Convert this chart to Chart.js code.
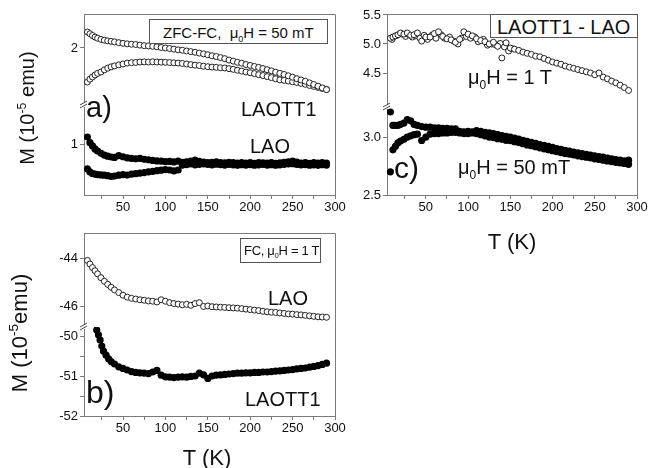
<!DOCTYPE html>
<html>
<head>
<meta charset="utf-8">
<script src="https://cdn.jsdelivr.net/npm/chart.js@4.4.1/dist/chart.umd.min.js"></script>
<style>
  body { margin: 0; background: #fff; }
  #fig { position: relative; width: 649px; height: 468px; overflow: hidden; background: #fff;
         font-family: "Liberation Sans", Arial, sans-serif; color: #111; }
  #fig canvas { position: absolute; }
  .lbl { position: absolute; white-space: nowrap; line-height: 1; }
  .box { position: absolute; white-space: nowrap; border: 1px solid #555; background: #fff;
         box-sizing: border-box; line-height: 1; }
  .ylab { position: absolute; white-space: nowrap; line-height: 1;
          transform: translate(-50%, -50%) rotate(-90deg); }
  .ctr { transform: translateX(-50%); }
  sub { font-size: 0.6em; vertical-align: -0.4em; line-height: 0; }
  sup { font-size: 0.62em; vertical-align: 0.65em; line-height: 0; }
</style>
</head>
<body>
<div id="fig">
  <canvas id="chartA" width="350" height="222" style="left:0;top:0"></canvas>
  <canvas id="chartB" width="350" height="224" style="left:0;top:219px"></canvas>
  <canvas id="chartC" width="309" height="222" style="left:340px;top:0"></canvas>

  <div class="ylab" style="left:27px;top:108px;font-size:20px">M (10<sup>-5</sup> emu)</div>
  <div class="ylab" style="left:20px;top:333px;font-size:22px">M (10<sup>-5</sup>emu)</div>
  <div class="lbl ctr" style="left:207px;top:447px;font-size:22px">T (K)</div>
  <div class="lbl ctr" style="left:512px;top:231px;font-size:22px">T (K)</div>

  <div class="box" style="left:149px;top:19px;width:179px;height:25px;font-size:15px;padding:5px 0 0 13px">ZFC-FC,&nbsp; μ<sub>0</sub>H = 50 mT</div>
  <div class="lbl" style="left:86px;top:93px;font-size:29px">a)</div>
  <div class="lbl" style="left:241px;top:99px;font-size:20px">LAOTT1</div>
  <div class="lbl" style="left:250px;top:136px;font-size:20px">LAO</div>

  <div class="box" style="left:240px;top:238px;width:81px;height:25px;font-size:13px;letter-spacing:-0.3px;padding:5px 0 0 3px">FC, μ<sub>0</sub>H = 1 T</div>
  <div class="lbl" style="left:268px;top:288px;font-size:20px">LAO</div>
  <div class="lbl" style="left:86px;top:376px;font-size:32px">b)</div>
  <div class="lbl" style="left:245px;top:389px;font-size:20px">LAOTT1</div>

  <div class="box" style="left:490px;top:14px;width:148px;height:24px;font-size:20px;padding:2px 0 0 6px">LAOTT1 - LAO</div>
  <div class="lbl" style="left:468px;top:67px;font-size:20px">μ<sub>0</sub>H = 1 T</div>
  <div class="lbl" style="left:394px;top:153px;font-size:30px">c)</div>
  <div class="lbl" style="left:458px;top:157px;font-size:20px">μ<sub>0</sub>H = 50 mT</div>
</div>

<script>
// temperature grids (K)
const tA = [8, 11, 14, 17, 20, 24, 28, 32, 36, 40, 45, 50, 55, 60, 65, 70, 75, 80, 85, 90,
            95, 100, 105, 110, 115, 120, 125, 130, 135, 140, 145, 150, 155, 160, 165, 170, 175, 180, 185, 190,
            195, 200, 205, 210, 215, 220, 225, 230, 235, 240, 245, 250, 255, 260, 265, 270, 275, 280, 285, 290];
const tB = [19, 21, 23, 25, 27, 30, 33, 36, 40, 45, 50, 55, 60, 65, 70, 75, 80, 85, 90, 95,
            100, 105, 110, 115, 120, 125, 130, 135, 140, 145, 150, 155, 160, 165, 170, 175, 180, 185, 190, 195,
            200, 205, 210, 215, 220, 225, 230, 235, 240, 245, 250, 255, 260, 265, 270, 275, 280, 285, 290];
const tScatter = [10, 16, 22, 26, 30, 34, 38, 43, 48, 52, 57, 62, 68, 72, 78, 83, 88, 92, 98, 103,
                  108, 112, 118, 123, 128, 132, 138, 143, 148, 152];

// a) LAOTT1, 50 mT (open circles)
const laott1FcA = [2.123, 2.110, 2.096, 2.084, 2.075, 2.066, 2.060, 2.055, 2.051, 2.047, 2.041, 2.036, 2.032, 2.029, 2.027, 2.022, 2.018, 2.016, 2.013, 2.009,
                   2.004, 2.000, 1.996, 1.991, 1.986, 1.983, 1.977, 1.972, 1.967, 1.961, 1.955, 1.948, 1.940, 1.934, 1.926, 1.918, 1.907, 1.899, 1.890, 1.883,
                   1.873, 1.866, 1.858, 1.851, 1.842, 1.833, 1.824, 1.814, 1.805, 1.796, 1.786, 1.775, 1.764, 1.754, 1.744, 1.732, 1.719, 1.706, 1.693, 1.680];
const laott1ZfcA = [1.738, 1.760, 1.777, 1.792, 1.805, 1.815, 1.832, 1.845, 1.855, 1.862, 1.870, 1.877, 1.884, 1.887, 1.889, 1.892, 1.893, 1.892, 1.894, 1.892,
                    1.891, 1.890, 1.888, 1.886, 1.884, 1.881, 1.877, 1.872, 1.868, 1.865, 1.860, 1.856, 1.853, 1.851, 1.848, 1.846, 1.841, 1.836, 1.829, 1.822,
                    1.815, 1.810, 1.803, 1.795, 1.788, 1.780, 1.772, 1.763, 1.755, 1.751, 1.746, 1.740, 1.735, 1.728, 1.721, 1.712, 1.705, 1.697, 1.689, 1.682];
// a) LAO, 50 mT (filled)
const laoFcA = [1.054, 1.010, 0.985, 0.962, 0.946, 0.928, 0.915, 0.906, 0.900, 0.897, 0.910, 0.902, 0.893, 0.889, 0.886, 0.889, 0.882, 0.878, 0.874, 0.870,
                0.868, 0.864, 0.866, 0.862, 0.868, 0.859, 0.862, 0.868, 0.876, 0.866, 0.861, 0.856, 0.858, 0.862, 0.857, 0.855, 0.859, 0.856, 0.853, 0.857,
                0.854, 0.856, 0.852, 0.857, 0.855, 0.853, 0.856, 0.852, 0.855, 0.858, 0.863, 0.868, 0.860, 0.854, 0.857, 0.852, 0.856, 0.853, 0.857, 0.854];
const laoZfcA = [0.808, 0.785, 0.773, 0.768, 0.765, 0.762, 0.760, 0.756, 0.750, 0.753, 0.760, 0.764, 0.761, 0.768, 0.772, 0.776, 0.780, 0.785, 0.790, 0.795,
                 0.799, 0.803, 0.800, 0.793, 0.800, 0.838, 0.842, 0.846, 0.840, 0.844, 0.847, 0.843, 0.840, 0.845, 0.842, 0.838, 0.843, 0.840, 0.836, 0.841,
                 0.838, 0.842, 0.837, 0.840, 0.843, 0.838, 0.841, 0.837, 0.840, 0.844, 0.846, 0.848, 0.843, 0.839, 0.842, 0.837, 0.840, 0.836, 0.841, 0.838];

// b) FC, 1 T
const laoB = [-44.10, -44.25, -44.40, -44.53, -44.66, -44.82, -44.97, -45.10, -45.22, -45.33, -45.44, -45.55, -45.63, -45.68, -45.71, -45.74, -45.76, -45.79, -45.80, -45.83,
              -45.74, -45.80, -45.86, -45.90, -45.92, -45.95, -45.93, -45.97, -45.90, -45.86, -46.02, -46.00, -46.03, -46.04, -46.05, -46.06, -46.07, -46.08, -46.09, -46.11,
              -46.13, -46.15, -46.17, -46.19, -46.22, -46.24, -46.26, -46.27, -46.29, -46.31, -46.33, -46.34, -46.36, -46.37, -46.39, -46.41, -46.43, -46.45, -46.46, -46.47];
const laott1B = [-49.85, -49.97, -50.10, -50.25, -50.38, -50.48, -50.57, -50.64, -50.70, -50.77, -50.81, -50.85, -50.89, -50.91, -50.92, -50.93, -50.94, -50.90, -50.86, -50.98,
                 -51.02, -51.03, -51.04, -51.03, -51.02, -51.03, -51.01, -51.00, -50.93, -50.97, -51.06, -51.00, -50.98, -50.97, -50.96, -50.95, -50.94, -50.93, -50.93, -50.92,
                 -50.92, -50.91, -50.91, -50.90, -50.90, -50.89, -50.88, -50.87, -50.86, -50.85, -50.84, -50.82, -50.81, -50.80, -50.78, -50.76, -50.74, -50.71, -50.68];

// c) LAOTT1 - LAO
const diff1T = [5.10, 5.12, 5.14, 5.16, 5.19, 5.17, 5.19, 5.15, 5.16, 5.19, 5.05, 5.12, 5.12, 5.18, 5.21, 5.13, 5.09, 5.07, 5.03, 5.08,
                5.21, 5.17, 5.14, 5.09, 5.06, 5.04, 5.00, 5.03, 4.96, 4.76, 5.02, 4.93, 4.91, 4.89, 4.86, 4.84, 4.82, 4.79, 4.78, 4.75,
                4.72, 4.69, 4.67, 4.65, 4.62, 4.60, 4.58, 4.56, 4.54, 4.52, 4.50, 4.47, 4.50, 4.43, 4.40, 4.36, 4.33, 4.29, 4.25, 4.20];
const diff1TScatter = [5.08, 5.15, 5.17, 5.13, 5.16, 5.12, 5.14, 5.10, 5.15, 5.08, 5.15, 5.10, 5.16, 5.10, 5.12, 5.05, 5.00, 5.10, 5.13, 5.10,
                       5.12, 5.04, 5.08, 4.98, 5.00, 4.99, 5.01, 4.95, 4.88, 4.92];
const diffFc50 = [3.216, 3.100, 3.100, 3.100, 3.110, 3.120, 3.150, 3.140, 3.110, 3.100, 3.090, 3.085, 3.085, 3.080, 3.080, 3.075, 3.075, 3.070, 3.070, 3.050,
                  3.045, 3.050, 3.045, 3.055, 3.050, 3.040, 3.035, 3.030, 3.020, 3.012, 3.005, 3.000, 2.990, 2.982, 2.972, 2.962, 2.955, 2.945, 2.935, 2.928,
                  2.920, 2.910, 2.900, 2.893, 2.885, 2.878, 2.870, 2.863, 2.857, 2.850, 2.845, 2.838, 2.832, 2.826, 2.818, 2.812, 2.806, 2.800, 2.795, 2.800];
const diffZfc50 = [2.700, 2.890, 2.920, 2.950, 2.965, 2.980, 3.000, 3.010, 3.020, 3.025, 2.970, 3.000, 3.025, 3.030, 3.030, 3.035, 3.035, 3.040, 3.040, 3.035,
                   3.030, 3.030, 3.035, 3.030, 3.020, 3.010, 3.000, 2.995, 2.985, 2.980, 2.972, 2.968, 2.960, 2.952, 2.942, 2.932, 2.925, 2.917, 2.907, 2.898,
                   2.890, 2.882, 2.874, 2.865, 2.857, 2.852, 2.845, 2.838, 2.831, 2.826, 2.820, 2.812, 2.806, 2.800, 2.794, 2.788, 2.782, 2.776, 2.772, 2.765];

// tick values
const xTicks = [25, 50, 75, 100, 125, 150, 175, 200, 225, 250, 275, 300];
const yTicksATop = [2], yTicksABot = [1];
const yTicksBTop = [-46, -44], yTicksBBot = [-52, -51.5, -51, -50.5, -50];
const yTicksCTop = [4.5, 5.0, 5.5], yTicksCBot = [2.5, 3.0];

const frameColor = '#7a7a7a';
const tickFont = { family: '"Liberation Sans", Arial, sans-serif', size: 13 };

function pts(xs, ys) {
    return xs.map((t, i) => ({ x: t, y: ys[i] }));
}

function openSet(xs, ys, axis) {
    return { data: pts(xs, ys), yAxisID: axis, pointRadius: 3, pointBorderWidth: 1,
             pointBorderColor: '#222', pointBackgroundColor: '#fff' };
}

function fillSet(xs, ys, axis) {
    return { data: pts(xs, ys), yAxisID: axis, pointRadius: 3.6, pointBorderWidth: 0,
             pointBorderColor: '#000', pointBackgroundColor: '#000' };
}

// draws top/right frame and the axis break mark
const framePlugin = {
    id: 'frame',
    afterDraw(chart) {
        const { ctx, chartArea: a } = chart;
        const yb = Math.round(chart.scales.yTop.bottom);
        ctx.save();
        ctx.strokeStyle = frameColor;
        ctx.lineWidth = 1;
        ctx.beginPath();
        ctx.moveTo(a.left, a.top + 0.5);
        ctx.lineTo(a.right + 0.5, a.top + 0.5);
        ctx.lineTo(a.right + 0.5, a.bottom);
        ctx.stroke();
        ctx.fillStyle = '#fff';
        ctx.fillRect(a.left - 2, yb - 2, 4, 4);
        ctx.strokeStyle = '#444';
        ctx.beginPath();
        ctx.moveTo(a.left - 4, yb); ctx.lineTo(a.left + 3, yb - 4);
        ctx.moveTo(a.left - 4, yb + 3); ctx.lineTo(a.left + 3, yb - 1);
        ctx.stroke();
        ctx.restore();
    }
};

function yScale(min, max, ticks, weight, fmt, width) {
    return {
        type: 'linear', position: 'left', stack: 'm', stackWeight: weight,
        min: min, max: max, bounds: 'data',
        afterFit: s => { s.width = width; },
        afterBuildTicks: s => { s.ticks = ticks.map(v => ({ value: v })); },
        grid: { drawOnChartArea: false, drawTicks: true, tickLength: 4, color: frameColor },
        border: { color: frameColor, width: 1 },
        ticks: { font: tickFont, color: '#111', padding: 2, autoSkip: false, callback: fmt }
    };
}

function createPanel(id, datasets, o) {
    return new Chart(document.getElementById(id), {
        type: 'scatter',
        data: { datasets: datasets },
        options: {
            responsive: false,
            animation: false,
            layout: { padding: o.padding, autoPadding: false },
            plugins: { legend: { display: false }, tooltip: { enabled: false } },
            scales: {
                x: {
                    type: 'linear', position: 'bottom', min: 4, max: 300, bounds: 'data',
                    afterFit: s => { s.height = 27; },
                    afterBuildTicks: s => { s.ticks = xTicks.map(v => ({ value: v })); },
                    grid: { drawOnChartArea: false, drawTicks: true, tickLength: 4, color: frameColor },
                    border: { color: frameColor, width: 1 },
                    ticks: { font: tickFont, color: '#111', padding: 1, autoSkip: false, maxRotation: 0,
                             callback: v => (v % 50 === 0 ? String(v) : '') }
                },
                yBot: yScale(o.bot[0], o.bot[1], o.botTicks, o.weights[1], o.fmt, o.yWidth),
                yTop: yScale(o.top[0], o.top[1], o.topTicks, o.weights[0], o.fmt, o.yWidth)
            }
        },
        plugins: [framePlugin]
    });
}

createPanel('chartA', [
    openSet(tA, laott1FcA, 'yTop'),
    openSet(tA, laott1ZfcA, 'yTop'),
    fillSet(tA, laoFcA, 'yBot'),
    fillSet(tA, laoZfcA, 'yBot')
], {
    padding: { top: 14, right: 15, left: 0, bottom: 0 }, yWidth: 84,
    top: [1.5615, 2.2615], bot: [0.6077, 1.30], weights: [91, 90],
    topTicks: yTicksATop, botTicks: yTicksABot, fmt: v => String(v)
});

createPanel('chartB', [
    openSet(tA, laoB, 'yTop'),
    fillSet(tB, laott1B, 'yBot')
], {
    padding: { top: 14, right: 15, left: 0, bottom: 0 }, yWidth: 84,
    top: [-46.875, -42.958], bot: [-52, -49.775], weights: [94, 89],
    topTicks: yTicksBTop, botTicks: yTicksBBot, fmt: v => (Number.isInteger(v) ? String(v) : '')
});

createPanel('chartC', [
    openSet(tA, diff1T, 'yTop'),
    openSet(tScatter, diff1TScatter, 'yTop'),
    fillSet(tA, diffFc50, 'yBot'),
    fillSet(tA, diffZfc50, 'yBot')
], {
    padding: { top: 14, right: 12, left: 0, bottom: 0 }, yWidth: 47,
    top: [3.914, 5.517], bot: [2.5, 3.259], weights: [93, 88],
    topTicks: yTicksCTop, botTicks: yTicksCBot, fmt: v => v.toFixed(1)
});
</script>
</body>
</html>
